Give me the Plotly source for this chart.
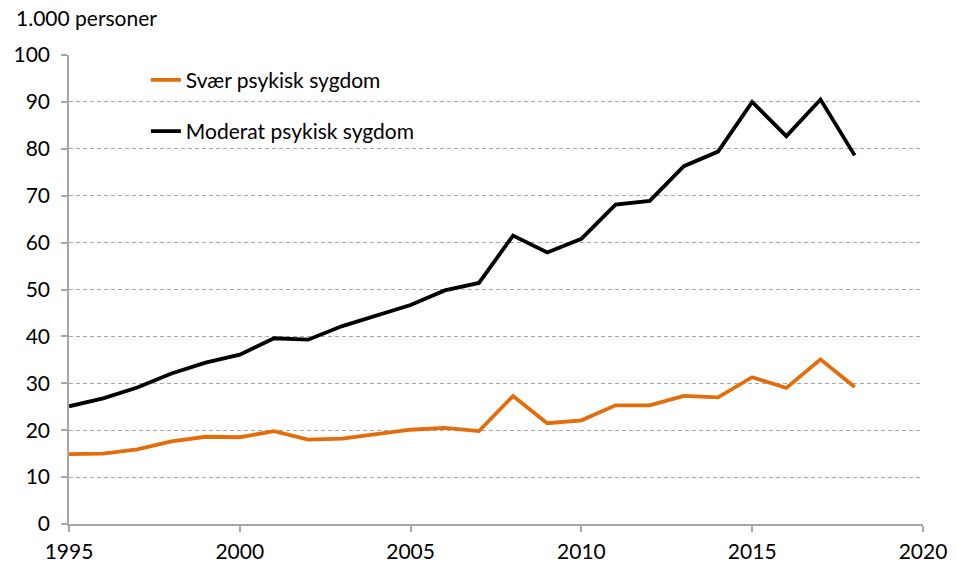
import plotly.graph_objects as go

years = list(range(1995, 2019))
svaer = [14.9, 15.0, 15.9, 17.6, 18.6, 18.5, 19.8, 18.0, 18.2, 19.2, 20.1, 20.5,
         19.8, 27.3, 21.5, 22.1, 25.3, 25.3, 27.3, 27.0, 31.3, 29.0, 35.1, 29.2]
moderat = [25.1, 26.8, 29.1, 32.1, 34.4, 36.1, 39.6, 39.3, 42.2, 44.4, 46.7, 49.8,
           51.4, 61.5, 57.9, 60.8, 68.1, 68.9, 76.3, 79.4, 90.0, 82.7, 90.5, 78.6]
y_ticks = [0, 10, 20, 30, 40, 50, 60, 70, 80, 90, 100]
x_ticks = [1995, 2000, 2005, 2010, 2015, 2020]

FONT = "Lato"
FS = 21

fig = go.Figure()
fig.add_trace(go.Scatter(x=years, y=svaer, mode="lines", name="Svær psykisk sygdom",
                         line=dict(color="#E46C0A", width=3.8), legendgroup="a"))
fig.add_trace(go.Scatter(x=years, y=moderat, mode="lines", name="Moderat psykisk sygdom",
                         line=dict(color="#000000", width=3.8), legendgroup="b"))

fig.update_layout(
    width=957, height=569,
    margin=dict(l=69, r=34, t=55, b=45, autoexpand=False),
    plot_bgcolor="white", paper_bgcolor="white",
    font=dict(family=FONT, size=FS, color="black"),
    showlegend=True,
    legend=dict(x=0.090, y=0.99, xanchor="left", yanchor="top",
                bgcolor="rgba(0,0,0,0)", font=dict(size=FS),
                tracegroupgap=21),
    xaxis=dict(range=[1995, 2020], tickvals=x_ticks, showgrid=False,
               showline=True, linecolor="#A6A6A6", linewidth=1.5,
               ticks="outside", ticklen=6, tickcolor="#A6A6A6", tickwidth=1.5,
               zeroline=False, tickfont=dict(size=FS), ticklabelstandoff=2,
               automargin=False),
    yaxis=dict(range=[0, 100], tickvals=y_ticks, showgrid=True,
               gridcolor="#A6A6A6", griddash="4px,3px", gridwidth=1,
               showline=True, linecolor="#A6A6A6", linewidth=1.5,
               ticks="outside", ticklen=6, tickcolor="#A6A6A6", tickwidth=1.5,
               zeroline=False, tickfont=dict(size=FS), ticklabelstandoff=7,
               automargin=False),
    annotations=[dict(text="1.000 personer", xref="paper", yref="paper",
                      x=-0.064, y=1.079, xanchor="left", yanchor="middle",
                      showarrow=False, font=dict(size=FS))],
)

fig.write_html("out.html", config={"displayModeBar": False},
               post_script="document.body.style.margin='0';document.body.style.padding='0';")
